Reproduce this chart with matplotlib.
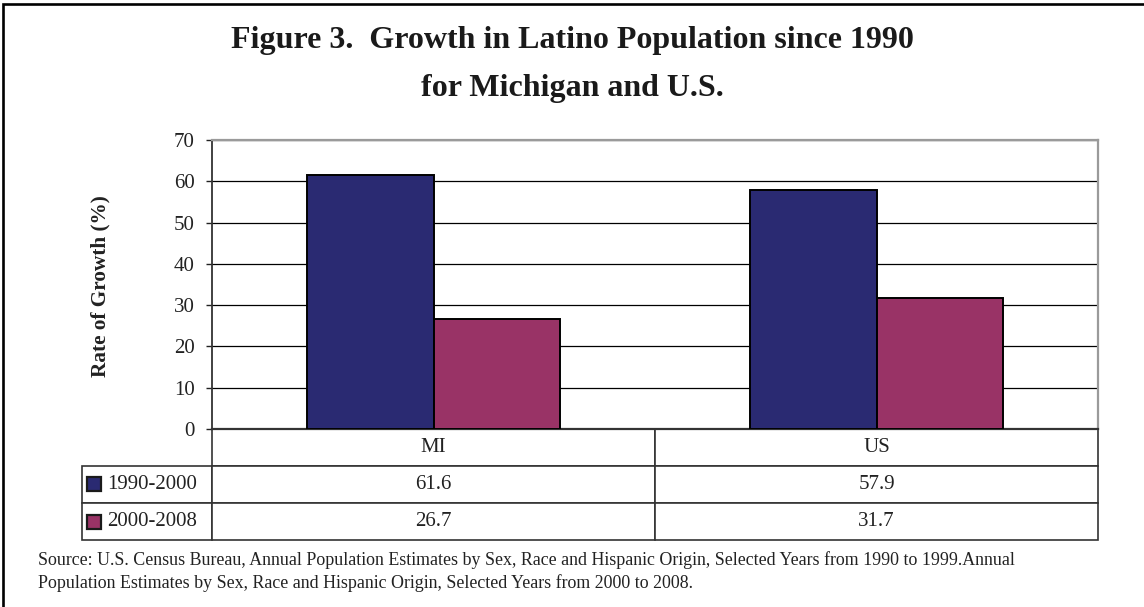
import numpy as np
import matplotlib
matplotlib.use('Agg')
import matplotlib.pyplot as plt
from matplotlib.patches import Rectangle
from matplotlib.table import Table

plt.rcParams['font.family'] = ['Liberation Serif', 'DejaVu Serif']

# growth rates (%) of the Latino population
categories = ['MI', 'US']
periods = ['1990-2000', '2000-2008']
growth_1990_2000 = [61.6, 57.9]
growth_2000_2008 = [26.7, 31.7]
yticks = [0, 10, 20, 30, 40, 50, 60, 70]

series = [growth_1990_2000, growth_2000_2008]
colors = ['#2A2A72', '#993366']

W, H = 1144, 607
fig = plt.figure(figsize=(W / 100, H / 100), dpi=100)

# frame around the whole figure (right/bottom edges fall outside)
fig.patches.append(Rectangle((2.5 / W, -0.1), 1.2, 1.1 - 3.5 / H,
                             transform=fig.transFigure, fill=False,
                             ec='black', lw=1.9))

fig.text(0.5, 1 - 48 / H, 'Figure 3.  Growth in Latino Population since 1990',
         ha='center', va='baseline', fontsize=23, fontweight='bold', color='#1a1a1a')
fig.text(0.5, 1 - 96 / H, 'for Michigan and U.S.',
         ha='center', va='baseline', fontsize=23, fontweight='bold', color='#1a1a1a')

ax_l, ax_r, ax_t, ax_b = 212, 1098, 140, 429
ax = fig.add_axes([ax_l / W, 1 - ax_b / H, (ax_r - ax_l) / W, (ax_b - ax_t) / H])

x = np.arange(len(categories))
bw = 1 / 3.5
for i, (vals, c) in enumerate(zip(series, colors)):
    ax.bar(x + (i - 0.5) * bw, vals, bw, color=c, edgecolor='black',
           lw=1.4, zorder=3)

ax.set_xlim(-0.5, len(categories) - 0.5)
ax.set_ylim(0, 70)
ax.set_yticks(yticks)
ax.set_xticks([])
ax.yaxis.grid(True, color='black', lw=0.9)
ax.set_axisbelow(True)
ax.tick_params(axis='y', direction='out', length=4.5, width=1, pad=8,
               labelsize=15, colors='#222222')
for s in ['top', 'right']:
    ax.spines[s].set_color('#9a9a9a')
    ax.spines[s].set_linewidth(1.6)
ax.spines['left'].set_color('#333333')
ax.spines['left'].set_linewidth(1.3)
ax.spines['bottom'].set_color('#333333')
ax.spines['bottom'].set_linewidth(1.6)

ax.set_ylabel('Rate of Growth (%)', fontsize=15.3, fontweight='bold', color='#222222')
ax.yaxis.set_label_coords((110 - ax_l) / (ax_r - ax_l), 0.493)

# data table under the plot
ppx = 1 / (ax_r - ax_l)
ppy = 1 / (ax_b - ax_t)
tab_l, tab_b = 82, 540
tbl = Table(ax, bbox=[(tab_l - ax_l) * ppx, -(tab_b - ax_b) * ppy,
                      (ax_r - tab_l) * ppx, (tab_b - ax_b) * ppy])
col_w = [ax_l - tab_l, 443, 443]
rows = [[''] + categories] + [[p] + ['%.1f' % v for v in vals]
                              for p, vals in zip(periods, series)]
for r, row in enumerate(rows):
    for c, txt in enumerate(row):
        cell = tbl.add_cell(r, c, width=col_w[c], height=1, text=txt,
                            loc='left' if c == 0 else 'center',
                            edgecolor='#333333', facecolor='white')
        cell.set_linewidth(1.2)
        cell.get_text().set_fontsize(15)
        cell.get_text().set_color('#222222')
        if c == 0:
            cell.PAD = 0.19
        if r == 0 and c == 0:
            cell.visible_edges = ''
tbl.auto_set_font_size(False)
ax.add_table(tbl)

# legend keys inside the row label cells
row_h = (tab_b - ax_b) / 3
for i, c in enumerate(colors):
    cy = ax_b + row_h * (i + 1.5)
    ax.add_patch(Rectangle(((87 - ax_l) * ppx, -(cy + 7) * ppy + ax_b * ppy),
                           14 * ppx, 14 * ppy, transform=ax.transAxes,
                           clip_on=False, fc=c, ec='#1a1a1a', lw=1.6, zorder=5))

src1 = ('Source: U.S. Census Bureau, Annual Population Estimates by Sex, Race and '
        'Hispanic Origin, Selected Years from 1990 to 1999.Annual')
src2 = ('Population Estimates by Sex, Race and Hispanic Origin, Selected Years '
        'from 2000 to 2008.')
fig.text(38 / W, 1 - 565 / H, src1, fontsize=12.9, va='baseline', color='#222222')
fig.text(38 / W, 1 - 588 / H, src2, fontsize=12.9, va='baseline', color='#222222')

fig.savefig('out.png', dpi=100)
